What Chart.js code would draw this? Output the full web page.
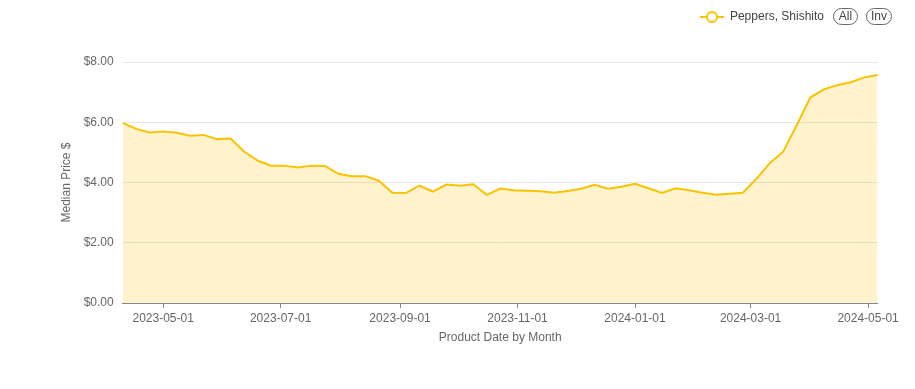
<!DOCTYPE html>
<html>
<head>
<meta charset="utf-8">
<script src="https://cdn.jsdelivr.net/npm/chart.js@4.4.1/dist/chart.umd.min.js"></script>
<style>
  html, body { margin: 0; padding: 0; background: #fff; }
  #wrap { position: relative; width: 915px; height: 389px; }
  .pill { position: absolute; box-sizing: border-box; height: 17px; border: 1px solid #666; border-radius: 9px;
          font: 12px 'Liberation Sans', Arial, sans-serif; color: #444; text-align: center; line-height: 15px; }
</style>
</head>
<body>
<div id="wrap">
  <canvas id="c" width="915" height="389"></canvas>
  <span class="pill" style="left:833px;top:8px;width:25px;">All</span>
  <span class="pill" style="left:866px;top:8px;width:26px;">Inv</span>
</div>
<script>
const seriesName = 'Peppers, Shishito';
const weekDates = [
  '2023-04-10','2023-04-17','2023-04-24','2023-05-01','2023-05-08','2023-05-15','2023-05-22','2023-05-29',
  '2023-06-05','2023-06-12','2023-06-19','2023-06-26','2023-07-03','2023-07-10','2023-07-17','2023-07-24',
  '2023-07-31','2023-08-07','2023-08-14','2023-08-21','2023-08-28','2023-09-04','2023-09-11','2023-09-18',
  '2023-09-25','2023-10-02','2023-10-09','2023-10-16','2023-10-23','2023-10-30','2023-11-06','2023-11-13',
  '2023-11-20','2023-11-27','2023-12-04','2023-12-11','2023-12-18','2023-12-25','2024-01-01','2024-01-08',
  '2024-01-15','2024-01-22','2024-01-29','2024-02-05','2024-02-12','2024-02-19','2024-02-26','2024-03-04',
  '2024-03-11','2024-03-18','2024-03-25','2024-04-01','2024-04-08','2024-04-15','2024-04-22','2024-04-29',
  '2024-05-06'
];
const medianPrices = [
  5.98, 5.78, 5.66, 5.69, 5.65, 5.55, 5.58, 5.44,
  5.46, 5.03, 4.73, 4.56, 4.56, 4.50, 4.56, 4.55,
  4.29, 4.21, 4.21, 4.06, 3.66, 3.65, 3.90, 3.70,
  3.93, 3.89, 3.94, 3.59, 3.80, 3.74, 3.73, 3.71,
  3.66, 3.72, 3.79, 3.92, 3.79, 3.86, 3.96, 3.81,
  3.65, 3.81, 3.74, 3.66, 3.59, 3.63, 3.66, 4.12,
  4.64, 5.03, 5.91, 6.82, 7.09, 7.23, 7.33, 7.49,
  7.57
];
const xTickDates = ['2023-05-01','2023-07-01','2023-09-01','2023-11-01','2024-01-01','2024-03-01','2024-05-01'];
const yTicks = [0, 2, 4, 6, 8];

const DAY = 86400000;
const toDay = s => Date.UTC(+s.slice(0,4), +s.slice(5,7) - 1, +s.slice(8,10)) / DAY;

const lineColor = '#FAC300';
const fillColor = 'rgba(250,195,0,0.2)';
const FONT = "'Liberation Sans', Arial, Helvetica, sans-serif";

// legend icon: line with hollow circle
const icon = document.createElement('canvas');
icon.width = 24; icon.height = 14;
(function(){
  const g = icon.getContext('2d');
  g.strokeStyle = lineColor; g.lineWidth = 2;
  g.beginPath(); g.moveTo(0, 7); g.lineTo(24, 7); g.stroke();
  g.beginPath(); g.arc(12, 7, 5, 0, Math.PI * 2); g.fillStyle = '#fff'; g.fill(); g.stroke();
})();

const legendShift = {
  id: 'legendShift',
  afterLayout(chart) { if (chart.legend) chart.legend.right = 834; }
};

new Chart(document.getElementById('c'), {
  type: 'line',
  data: {
    datasets: [{
      label: seriesName,
      data: weekDates.map((d, i) => ({ x: toDay(d), y: medianPrices[i] })),
      borderColor: lineColor,
      backgroundColor: fillColor,
      borderWidth: 2,
      fill: 'origin',
      pointRadius: 0,
      pointHoverRadius: 0,
      pointStyle: icon,
      tension: 0
    }]
  },
  options: {
    responsive: false,
    animation: false,
    font: { family: FONT },
    layout: { padding: { left: 55.7, right: 37.3, top: 1, bottom: 40 } },
    plugins: {
      tooltip: { enabled: false },
      legend: {
        position: 'top', align: 'end',
        labels: { usePointStyle: true, pointStyleWidth: 24, padding: 10, color: '#444',
                  font: { family: FONT, size: 12 } }
      },
      title: { display: true, text: ' ', weight: 500, font: { size: 10, lineHeight: 1 }, padding: { top: 10, bottom: 9 } }
    },
    scales: {
      x: {
        type: 'linear',
        min: toDay(weekDates[0]),
        max: toDay(weekDates[weekDates.length - 1]),
        afterBuildTicks: (scale) => { scale.ticks = xTickDates.map(d => ({ value: toDay(d) })); },
        afterFit: (scale) => { scale.height = 46; },
        ticks: {
          autoSkip: false, maxRotation: 0, padding: 3, color: '#666',
          font: { family: FONT, size: 12 },
          callback: (v, i) => xTickDates[i]
        },
        grid: { drawOnChartArea: false, color: 'transparent', tickColor: '#888', tickLength: 5 },
        border: { display: true, color: '#888', width: 1 },
        title: { display: true, text: 'Product Date by Month', color: '#666',
                 font: { family: FONT, size: 12 }, padding: { top: 5, bottom: 4 } }
      },
      y: {
        min: 0, max: 8,
        afterBuildTicks: (scale) => { scale.ticks = yTicks.map(v => ({ value: v })); },
        afterFit: (scale) => { scale.width = 67; },
        ticks: { padding: 3, color: '#666', font: { family: FONT, size: 12 },
                 callback: v => '$' + Number(v).toFixed(2) },
        grid: { color: '#e1e6ef', tickColor: 'transparent', tickLength: 6 },
        border: { display: false },
        title: { display: true, text: 'Median Price $', color: '#666',
                 font: { family: FONT, size: 12 }, padding: { top: 4, bottom: 4 } }
      }
    }
  },
  plugins: [legendShift]
});
</script>
</body>
</html>
